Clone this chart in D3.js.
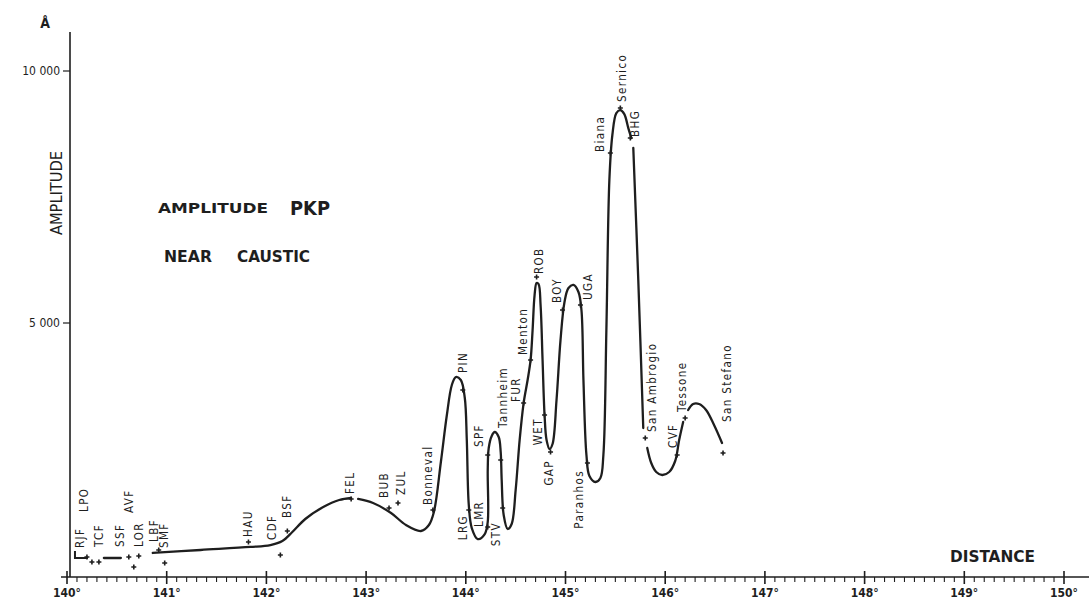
<!DOCTYPE html>
<html>
<head>
<meta charset="utf-8">
<script src="https://cdn.jsdelivr.net/npm/d3@7"></script>
<style>
  body { margin: 0; background: #fff; }
  svg { display: block; }
</style>
</head>
<body>
<svg id="chart"></svg>
<script>
// --- 1. Data ---

const width = 1089;
const height = 609;

// x axis: epicentral distance (degrees)
const xTickValues = [140, 141, 142, 143, 144, 145, 146, 147, 148, 149, 150];
const xTickLabels = ["140°", "141°", "142°", "143°", "144°", "145°", "146°", "147°", "148°", "149°", "150°"];

// y axis: amplitude (Å)
const yTickValues = [5000, 10000];
const yTickLabels = ["5 000", "10 000"];

// stations, distance (deg) and amplitude (Å)
const stationNames = ["LPO", "RJF", "TCF", "SSF", "AVF", "LOR", "LBF", "SMF", "HAU", "CDF", "BSF",
  "FEL", "BUB", "ZUL", "Bonneval", "PIN", "LRG", "LMR", "SPF", "Tannheim", "STV", "FUR", "Menton",
  "ROB", "WET", "GAP", "BOY", "UGA", "Paranhos", "Biana", "Sernico", "BHG", "San Ambrogio", "CVF",
  "Tessone", "San Stefano"];
const stationDist = [140.20, 140.25, 140.32, 140.62, 140.67, 140.72, 140.92, 140.98, 141.82, 142.14, 142.21,
  142.85, 143.23, 143.32, 143.67, 143.97, 144.03, 144.22, 144.22, 144.35, 144.37, 144.58, 144.65,
  144.71, 144.79, 144.85, 144.97, 145.15, 145.22, 145.45, 145.55, 145.65, 145.80, 146.12,
  146.20, 146.58];
const stationAmp = [357, 258, 258, 357, 159, 377, 496, 238, 655, 397, 873,
  1508, 1329, 1428, 1290, 3670, 1290, 952, 2381, 2282, 1329, 3412, 4266,
  5912, 3174, 2440, 5258, 5357, 2222, 8372, 9265, 8670, 2718, 2381,
  3115, 2420];

// hand drawn amplitude curve, in pieces [distance, amplitude]
const curveStart = [[140.08, 476], [140.08, 337], [140.21, 337]];
const curveShort = [[140.37, 337], [140.54, 337]];
const curveLow = [[140.86, 437], [141.34, 496], [141.84, 556], [142.04, 595], [142.16, 675],
  [142.26, 853], [142.39, 1111], [142.57, 1349], [142.73, 1488], [142.85, 1528]];
const curveMain = [[142.92, 1508], [143.07, 1428], [143.25, 1230], [143.40, 992], [143.55, 873],
  [143.63, 992], [143.68, 1250], [143.75, 2242], [143.81, 3174], [143.86, 3770], [143.90, 3928],
  [143.95, 3869], [143.99, 3512], [144.01, 2678], [144.03, 1389], [144.06, 932], [144.12, 714],
  [144.19, 813], [144.22, 1052], [144.22, 2083], [144.23, 2520], [144.26, 2758], [144.29, 2837],
  [144.33, 2738], [144.35, 2440], [144.36, 1885], [144.38, 1190], [144.42, 913], [144.46, 1012],
  [144.50, 1686], [144.54, 2678], [144.58, 3412], [144.62, 3869], [144.65, 4266], [144.67, 4861],
  [144.69, 5555], [144.71, 5793], [144.73, 5773], [144.75, 5357], [144.77, 4266], [144.79, 3174],
  [144.81, 2678], [144.84, 2500], [144.87, 2599], [144.91, 3472], [144.95, 4662], [144.99, 5416],
  [145.03, 5694], [145.08, 5754], [145.13, 5615], [145.16, 5258], [145.18, 3869], [145.21, 2381],
  [145.24, 1964], [145.30, 1845], [145.35, 1925], [145.38, 2381], [145.41, 4861], [145.44, 7837],
  [145.47, 8730], [145.51, 9166], [145.55, 9225], [145.59, 9146], [145.63, 8868], [145.66, 8670]];
const curveFall = [[145.68, 8472], [145.73, 5853], [145.78, 2916]];
const curveTrough = [[145.82, 2520], [145.86, 2222], [145.91, 2044], [145.97, 1984], [146.04, 2044],
  [146.10, 2262], [146.14, 2678], [146.18, 3036]];
const curveEnd = [[146.23, 3274], [146.28, 3393], [146.34, 3393], [146.41, 3274], [146.49, 2976],
  [146.57, 2619]];

// label placement beside each mark: [dx, dy, side] (px), "up" = text above, "down" = below
const labelOffsets = [[-3, -45, "up"], [-12, -14, "up"], [0, -15, "up"], [-9, -10, "up"], [-5, -54, "up"],
  [0, -9, "up"], [-5, -8, "up"], [-1, -15, "up"], [0, -5, "up"], [-8, -15, "up"], [0, -13, "up"],
  [-1, -5, "up"], [-5, -10, "up"], [3, -8, "up"], [-5, -5, "up"], [0, -17, "up"], [-6, 5, "down"],
  [-9, 0, "up"], [-9, -8, "up"], [2, -32, "up"], [-7, 14, "down"], [-8, -1, "up"], [-8, -5, "up"],
  [2, -3, "up"], [-7, 3, "down"], [-2, 8, "down"], [-6, -7, "up"], [8, -5, "up"], [-8, 7, "down"],
  [-10, -1, "up"], [2, -6, "up"], [5, -1, "up"], [7, -6, "up"], [-4, -7, "up"], [-3, -6, "up"],
  [4, -31, "up"]];

// --- 2. Scales ---

const ink = "#1e1e1e";
const labelFont = "'DejaVu Sans Condensed', 'Liberation Sans Narrow', 'DejaVu Sans', sans-serif";

const x = d3.scaleLinear().domain([140, 150]).range([67, 1064]);
const y = d3.scaleLinear().domain([0, 10000]).range([575, 71]);
const axisY = 577;

const svg = d3.select("#chart")
  .attr("width", width)
  .attr("height", height)
  .attr("viewBox", [0, 0, width, height]);

// --- 3. Axes ---

const gx = svg.append("g").attr("transform", `translate(0,${axisY})`);
gx.append("line")
  .attr("x1", x(140) - 6).attr("x2", width)
  .attr("stroke", ink).attr("stroke-width", 1.6);

const minorTicks = d3.range(1401, 1500).filter(d => d % 10 !== 0).map(d => d / 10);
gx.selectAll(".minor")
  .data(minorTicks)
  .join("line")
  .attr("x1", d => x(d)).attr("x2", d => x(d))
  .attr("y1", 0).attr("y2", 5)
  .attr("stroke", ink).attr("stroke-width", 1.1);

gx.selectAll(".major")
  .data(xTickValues)
  .join("line")
  .attr("x1", d => x(d)).attr("x2", d => x(d))
  .attr("y1", -6).attr("y2", 7)
  .attr("stroke", ink).attr("stroke-width", 1.6);

gx.selectAll(".xlab")
  .data(xTickValues)
  .join("text")
  .attr("x", d => x(d))
  .attr("y", 20)
  .attr("text-anchor", "middle")
  .attr("font-family", labelFont)
  .attr("font-size", 12)
  .attr("font-weight", "bold")
  .attr("fill", ink)
  .text((d, i) => xTickLabels[i]);

const gy = svg.append("g").attr("transform", `translate(${x(140) + 3},0)`);
gy.append("line")
  .attr("y1", 32).attr("y2", axisY)
  .attr("stroke", ink).attr("stroke-width", 1.6);

gy.selectAll(".ytick")
  .data(yTickValues)
  .join("line")
  .attr("x1", -7).attr("x2", 0)
  .attr("y1", d => y(d)).attr("y2", d => y(d))
  .attr("stroke", ink).attr("stroke-width", 1.2);

gy.selectAll(".ylab")
  .data(yTickValues)
  .join("text")
  .attr("x", -10)
  .attr("y", d => y(d))
  .attr("dy", "0.35em")
  .attr("text-anchor", "end")
  .attr("font-family", labelFont)
  .attr("font-size", 12)
  .attr("fill", ink)
  .text((d, i) => yTickLabels[i]);

// --- 4. Titles ---

svg.append("text")
  .attr("x", 45).attr("y", 28)
  .attr("text-anchor", "middle")
  .attr("font-family", labelFont)
  .attr("font-size", 14)
  .attr("font-weight", "bold")
  .attr("fill", ink)
  .text("Å");

svg.append("text")
  .attr("transform", "translate(62,193) rotate(-90)")
  .attr("text-anchor", "middle")
  .attr("font-family", labelFont)
  .attr("font-size", 16)
  .attr("fill", ink)
  .attr("textLength", 84)
  .attr("lengthAdjust", "spacingAndGlyphs")
  .text("AMPLITUDE");

function title(txt, tx, ty, size, len) {
  svg.append("text")
    .attr("x", tx).attr("y", ty)
    .attr("font-family", labelFont)
    .attr("font-size", size)
    .attr("font-weight", "bold")
    .attr("fill", ink)
    .attr("textLength", len)
    .attr("lengthAdjust", "spacingAndGlyphs")
    .text(txt);
}
title("AMPLITUDE", 158, 213, 14, 110);
title("PKP", 290, 215, 20, 40);
title("NEAR", 164, 262, 15, 48);
title("CAUSTIC", 237, 262, 15, 73);
title("DISTANCE", 950, 562, 15, 85);

// --- 5. Curve ---

const smooth = d3.line()
  .x(d => x(d[0]))
  .y(d => y(d[1]))
  .curve(d3.curveCatmullRom.alpha(0.5));
const straight = d3.line()
  .x(d => x(d[0]))
  .y(d => y(d[1]));

svg.append("path")
  .attr("d", straight(curveStart))
  .attr("fill", "none").attr("stroke", ink).attr("stroke-width", 2);

[curveShort, curveLow, curveMain, curveFall, curveTrough, curveEnd].forEach(seg => {
  svg.append("path")
    .attr("d", smooth(seg))
    .attr("fill", "none")
    .attr("stroke", ink)
    .attr("stroke-width", 2.3)
    .attr("stroke-linejoin", "round")
    .attr("stroke-linecap", "round");
});

// --- 6. Station marks and names ---

const stations = stationNames.map((name, i) => ({
  name: name,
  dist: stationDist[i],
  amp: stationAmp[i],
  off: labelOffsets[i]
}));

svg.append("g")
  .selectAll("path")
  .data(stations)
  .join("path")
  .attr("transform", d => `translate(${x(d.dist)},${y(d.amp)})`)
  .attr("d", "M-2.5,0H2.5M0,-2.5V2.5")
  .attr("stroke", ink)
  .attr("stroke-width", 1.6);

svg.append("g")
  .selectAll("text")
  .data(stations)
  .join("text")
  .attr("transform", d => `translate(${x(d.dist) + d.off[0]},${y(d.amp) + d.off[1]}) rotate(-90)`)
  .attr("dy", "0.35em")
  .attr("text-anchor", d => d.off[2] === "up" ? "start" : "end")
  .attr("font-family", labelFont)
  .attr("font-size", 11.5)
  .attr("letter-spacing", 1.4)
  .attr("fill", ink)
  .text(d => d.name);
</script>
</body>
</html>
